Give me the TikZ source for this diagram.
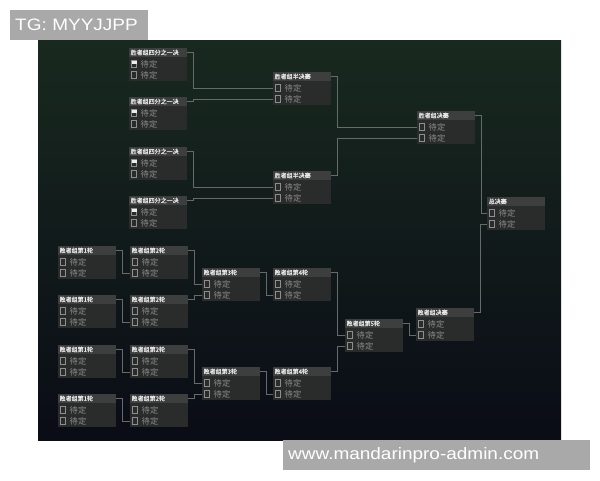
\documentclass[tikz,border=0pt]{standalone}
\usepackage{fontspec}
\setmainfont{Liberation Sans}
\newfontfamily\cjk{Noto Sans CJK SC}
\newfontfamily\cjkhead[FakeBold=0.35]{Noto Sans CJK SC}
\newfontfamily\wmfont[FakeStretch=1.15]{Liberation Sans}

\definecolor{bgtop}{HTML}{18291F}
\definecolor{bgmid}{HTML}{111E1B}
\definecolor{bgbot}{HTML}{0A0C16}
\definecolor{boxfill}{HTML}{2A2B2B}
\definecolor{headfill}{HTML}{3D3E3E}
\definecolor{headtext}{HTML}{EAEAEA}
\definecolor{itemgray}{HTML}{8E8E8E}
\definecolor{linkgray}{HTML}{666B69}
\definecolor{wmgray}{HTML}{A9A9A9}

\tikzset{
  matchbox/.style={anchor=north west,minimum width=58pt,minimum height=33pt,
    inner sep=0pt,fill=boxfill},
  headbar/.style={anchor=north west,minimum width=58pt,minimum height=8.5pt,
    text width=55pt,inner xsep=1.5pt,inner ysep=0pt,fill=headfill,
    text=headtext,font=\cjkhead\fontsize{6}{6.5}\selectfont},
  itemtext/.style={anchor=west,inner sep=0pt,text=itemgray,
    font=\cjk\fontsize{8.3}{9}\selectfont},
  tickbox/.style={draw=itemgray,line width=0.5pt},
  link/.style={draw=linkgray,line width=0.5pt},
  wmark/.style={anchor=north west,fill=wmgray,text=white,inner xsep=5pt,
    inner ysep=0pt,font=\wmfont\fontsize{16.5}{18}\selectfont},
}

% one match: name, x, y, title
\newcommand{\match}[4]{%
  \node[matchbox] (#1) at (#2,#3) {};
  \node[headbar] (#1-h) at (#1.north west) {#4};
  \draw[tickbox] ([xshift=2.5pt,yshift=-12.5pt]#1.north west) rectangle ++(5pt,-7pt);
  \node[itemtext] (#1-a) at ([xshift=11.5pt,yshift=-16pt]#1.north west) {待定};
  \draw[tickbox] ([xshift=2.5pt,yshift=-23.5pt]#1.north west) rectangle ++(5pt,-7pt);
  \node[itemtext] (#1-b) at ([xshift=11.5pt,yshift=-27pt]#1.north west) {待定};
}
% marked first slot
\newcommand{\flagged}[1]{%
  \fill[white!85!gray] ([xshift=2.5pt,yshift=-12.5pt]#1.north west) rectangle ++(5pt,-3.5pt);
}

\begin{document}
\begin{tikzpicture}[x=1pt,y=-1pt]
  \useasboundingbox (0,0) rectangle (600,480);
  \fill[white] (0,0) rectangle (600,480);
  \shade[top color=bgtop,middle color=bgmid,bottom color=bgbot] (38,40) rectangle (561,440);

  % winners bracket
  \match{wq1}{129}{48}{胜者组四分之一决}
  \match{wq2}{129}{97}{胜者组四分之一决}
  \match{wq3}{129}{147}{胜者组四分之一决}
  \match{wq4}{129}{196}{胜者组四分之一决}
  \flagged{wq1} \flagged{wq2} \flagged{wq3} \flagged{wq4}
  \match{ws1}{273}{72}{胜者组半决赛}
  \match{ws2}{273}{171}{胜者组半决赛}
  \match{wf}{417}{111}{胜者组决赛}
  \match{gf}{487}{197}{总决赛}

  % losers bracket
  \match{l1a}{58}{246}{败者组第1轮}
  \match{l1b}{58}{295}{败者组第1轮}
  \match{l1c}{58}{345}{败者组第1轮}
  \match{l1d}{58}{394}{败者组第1轮}
  \match{l2a}{130}{246}{败者组第2轮}
  \match{l2b}{130}{295}{败者组第2轮}
  \match{l2c}{130}{345}{败者组第2轮}
  \match{l2d}{130}{394}{败者组第2轮}
  \match{l3a}{202}{268}{败者组第3轮}
  \match{l3b}{202}{367}{败者组第3轮}
  \match{l4a}{273}{268}{败者组第4轮}
  \match{l4b}{273}{367}{败者组第4轮}
  \match{l5}{345}{319}{败者组第5轮}
  \match{lf}{416}{308}{败者组决赛}

  % links
  \draw[link] (wq1-h.east) -- ++(6pt,0) |- (ws1.west |- ws1-a);
  \draw[link] (wq2-h.east) -- ++(6pt,0) |- (ws1.west |- ws1-b);
  \draw[link] (wq3-h.east) -- ++(6pt,0) |- (ws2.west |- ws2-a);
  \draw[link] (wq4-h.east) -- ++(6pt,0) |- (ws2.west |- ws2-b);
  \draw[link] (ws1-h.east) -- ++(6pt,0) |- (wf.west |- wf-a);
  \draw[link] (ws2-h.east) -- ++(6pt,0) |- (wf.west |- wf-b);
  \draw[link] (wf-h.east) -- ++(6pt,0) |- (gf.west |- gf-a);
  \draw[link] (l1a-h.east) -- ++(6pt,0) |- (l2a.west |- l2a-b);
  \draw[link] (l1b-h.east) -- ++(6pt,0) |- (l2b.west |- l2b-b);
  \draw[link] (l1c-h.east) -- ++(6pt,0) |- (l2c.west |- l2c-b);
  \draw[link] (l1d-h.east) -- ++(6pt,0) |- (l2d.west |- l2d-b);
  \draw[link] (l2a-h.east) -- ++(6pt,0) |- (l3a.west |- l3a-a);
  \draw[link] (l2b-h.east) -- ++(6pt,0) |- (l3a.west |- l3a-b);
  \draw[link] (l2c-h.east) -- ++(6pt,0) |- (l3b.west |- l3b-a);
  \draw[link] (l2d-h.east) -- ++(6pt,0) |- (l3b.west |- l3b-b);
  \draw[link] (l3a-h.east) -- ++(6pt,0) |- (l4a.west |- l4a-b);
  \draw[link] (l3b-h.east) -- ++(6pt,0) |- (l4b.west |- l4b-b);
  \draw[link] (l4a-h.east) -- ++(6pt,0) |- (l5.west |- l5-a);
  \draw[link] (l4b-h.east) -- ++(6pt,0) |- (l5.west |- l5-b);
  \draw[link] (l5-h.east) -- ++(6pt,0) |- (lf.west |- lf-b);
  \draw[link] (lf-h.east) -- ++(6pt,0) |- (gf.west |- gf-b);

  % watermarks
  \node[wmark,minimum width=138pt,minimum height=30pt,text width=128pt] (tag) at (10,10) {TG: MYYJJPP};
  \node[wmark,minimum width=307pt,minimum height=30pt,text width=297pt] (site) at (283,440) {www.mandarinpro-admin.com};
\end{tikzpicture}
\end{document}
